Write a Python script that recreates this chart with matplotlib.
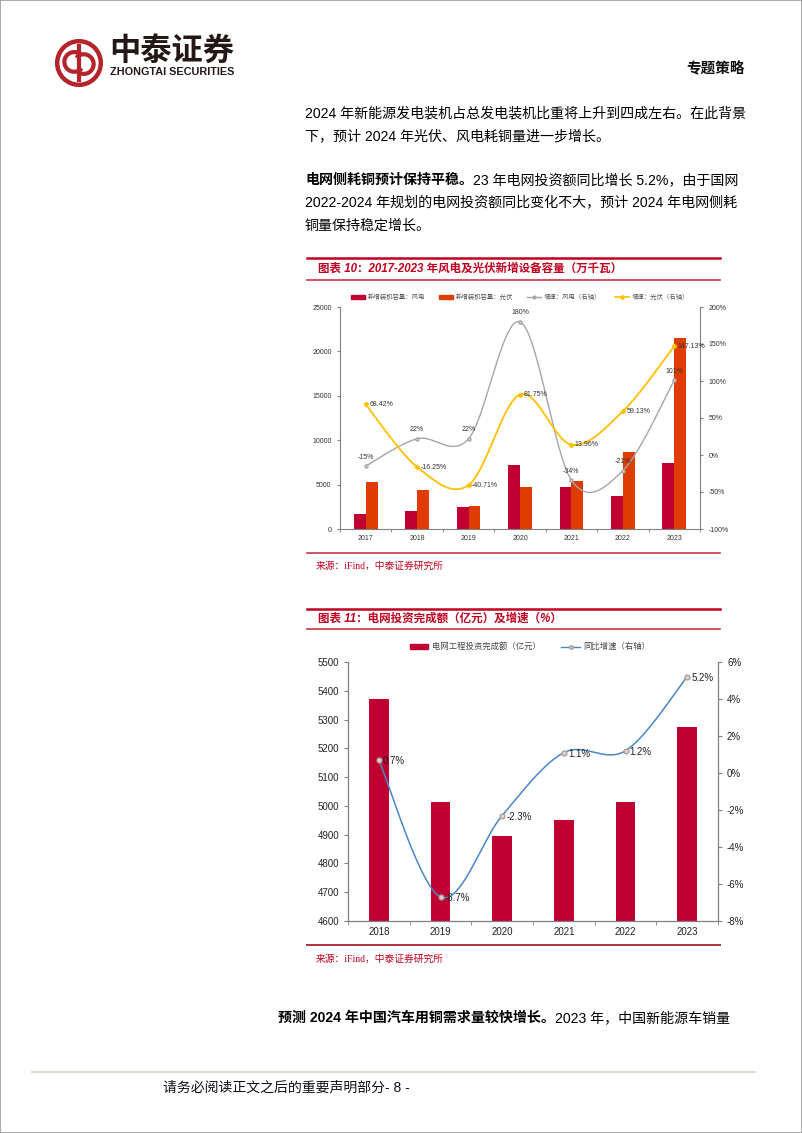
import numpy as np
import matplotlib
matplotlib.use("Agg")
import matplotlib.pyplot as plt
from matplotlib.patches import Circle, Arc, Rectangle
from matplotlib.lines import Line2D
from matplotlib.ticker import FuncFormatter

plt.rcParams['font.family'] = ['Liberation Sans', 'Noto Sans CJK SC']

# ---- data: chart 10 (wind / solar new capacity, 10MW) ----
years_a = ['2017', '2018', '2019', '2020', '2021', '2022', '2023']
wind_cap = [1690, 2070, 2520, 7170, 4700, 3720, 7480]
solar_cap = [5290, 4430, 2630, 4770, 5440, 8670, 21470]
wind_growth = [-15, 22, 22, 180, -34, -21, 101]
solar_growth = [68.42, -16.25, -40.71, 81.75, 13.96, 59.13, 147.13]

# ---- data: chart 11 (grid investment, 100M yuan) ----
years_b = ['2018', '2019', '2020', '2021', '2022', '2023']
grid_invest = [5373, 5012, 4896, 4951, 5012, 5275]
grid_growth = [0.7, -6.7, -2.3, 1.1, 1.2, 5.2]

W, H = 802, 1133
RED = '#C00030'
ORANGE = '#E03C00'
GREY = '#A6A6A6'
YELLOW = '#FFC000'
BLUE = '#4A86C5'
TITLE_RED = '#C0001F'
AXC = '#808080'

fig = plt.figure(figsize=(W / 100, H / 100), dpi=100)


def fx(px):
    return px / W


def fy(py):
    return 1 - py / H


def txt(x, y, s, **kw):
    kw.setdefault('va', 'center')
    return fig.text(fx(x), fy(y), s, **kw)


def hline(x0, x1, y, **kw):
    fig.add_artist(Line2D([fx(x0), fx(x1)], [fy(y), fy(y)],
                          transform=fig.transFigure, **kw))


def smooth(x, y, n=40):
    # Catmull-Rom style bezier smoothing (like excel "smoothed line")
    x = np.asarray(x, float)
    y = np.asarray(y, float)
    t = np.linspace(0, 1, n)
    xs, ys = [], []
    for i in range(len(x) - 1):
        a = i - 1 if i > 0 else i
        d = i + 2 if i + 2 < len(x) else i + 1
        c1x = x[i] + (x[i + 1] - x[a]) / 6
        c1y = y[i] + (y[i + 1] - y[a]) / 6
        c2x = x[i + 1] - (x[d] - x[i]) / 6
        c2y = y[i + 1] - (y[d] - y[i]) / 6
        bx = (1 - t) ** 3 * x[i] + 3 * (1 - t) ** 2 * t * c1x + 3 * (1 - t) * t ** 2 * c2x + t ** 3 * x[i + 1]
        by = (1 - t) ** 3 * y[i] + 3 * (1 - t) ** 2 * t * c1y + 3 * (1 - t) * t ** 2 * c2y + t ** 3 * y[i + 1]
        xs.extend(bx)
        ys.extend(by)
    return np.array(xs), np.array(ys)


# page frame
fig.add_artist(Rectangle((0, 0), 1, 1, transform=fig.transFigure, fill=False,
                         edgecolor='#9a9a9a', lw=1.2))

# ---- header / logo ----
lax = fig.add_axes([fx(55), fy(88), fx(48), 50 / H])
lax.set_xlim(-1.1, 1.1)
lax.set_ylim(-1.1, 1.1)
lax.set_aspect('equal')
lax.axis('off')
lax.add_patch(Circle((0, 0), 1.0, fill=False, edgecolor='#B5232B', lw=3.2))
lax.add_patch(Arc((-0.22, 0.05), 0.9, 0.9, theta1=40, theta2=320, edgecolor='#B5232B', lw=3))
lax.add_patch(Arc((0.22, -0.05), 0.9, 0.9, theta1=220, theta2=500, edgecolor='#B5232B', lw=3))
lax.plot([0, 0], [-0.8, 0.8], color='#B5232B', lw=3)

txt(109, 51, '中泰证券', fontsize=22.5, fontweight='bold', color='#231815',
    family=['Noto Sans CJK SC'])
txt(110, 72, 'ZHONGTAI SECURITIES', fontsize=7.8, fontweight='bold', color='#231815')
txt(745, 69, '专题策略', fontsize=10.5, fontweight='bold', ha='right', color='#111111')

# ---- body text ----
BODY = 10.1
txt(305, 113, '2024 年新能源发电装机占总发电装机比重将上升到四成左右。在此背景', fontsize=BODY)
txt(305, 136, '下，预计 2024 年光伏、风电耗铜量进一步增长。', fontsize=BODY)

fig.canvas.draw()
renderer = fig.canvas.get_renderer()

b1 = txt(305, 180, '电网侧耗铜预计保持平稳。', fontsize=BODY, fontweight='bold')
w1 = b1.get_window_extent(renderer).width
txt(305 + w1, 180, '23 年电网投资额同比增长 5.2%，由于国网', fontsize=BODY)
txt(305, 203, '2022-2024 年规划的电网投资额同比变化不大，预计 2024 年电网侧耗', fontsize=BODY)
txt(305, 226, '铜量保持稳定增长。', fontsize=BODY)

b2 = txt(278, 1018, '预测 2024 年中国汽车用铜需求量较快增长。', fontsize=BODY, fontweight='bold')
w2 = b2.get_window_extent(renderer).width
txt(278 + w2, 1018, '2023 年，中国新能源车销量', fontsize=BODY)

# footer
hline(32, 755, 1072, color='#D8CFC4', lw=1.2)
txt(163, 1088, '请务必阅读正文之后的重要声明部分- 8 -', fontsize=10, color='#111111')

# ---- chart 10 frame ----
hline(307, 720, 258, color=TITLE_RED, lw=1.8)
hline(307, 720, 280, color='#CC3344', lw=1.2)
txt(318, 269, '图表 10：2017-2023 年风电及光伏新增设备容量（万千瓦）', fontsize=8.3,
    fontweight='bold', style='italic', color=TITLE_RED)
hline(307, 720, 553, color='#CC3344', lw=1.2)
txt(316, 566, '来源：iFind，中泰证券研究所', fontsize=7, color='#C0001F',
    family=['Liberation Serif', 'Noto Sans CJK SC'])

ax1 = fig.add_axes([fx(340), fy(529), fx(700) - fx(340), 222 / H])
xa = np.arange(len(years_a))
bw = 0.23
ax1.bar(xa - bw / 2, wind_cap, bw, color=RED, zorder=2)
ax1.bar(xa + bw / 2, solar_cap, bw, color=ORANGE, zorder=2)
ax1.set_xlim(-0.5, len(years_a) - 0.5)
ax1.set_ylim(0, 25000)
ax1.set_yticks(range(0, 25001, 5000))
ax1.set_xticks(xa)
ax1.set_xticklabels(years_a)
ax1.set_xticks(np.arange(-0.5, len(years_a), 1), minor=True)
ax1.tick_params(axis='x', which='major', length=0, labelsize=5, pad=4, colors='#333333')
ax1.tick_params(axis='x', which='minor', length=2.5, color=AXC)
ax1.tick_params(axis='y', length=2.5, labelsize=5, colors='#333333', color=AXC)
for s in ['top', 'right']:
    ax1.spines[s].set_visible(False)
for s in ['left', 'bottom']:
    ax1.spines[s].set_color(AXC)
    ax1.spines[s].set_linewidth(0.8)

ax1r = ax1.twinx()
ax1r.set_ylim(-100, 200)
ax1r.set_yticks(range(-100, 201, 50))
ax1r.yaxis.set_major_formatter(FuncFormatter(lambda v, p: f'{v:.0f}%'))
ax1r.tick_params(axis='y', length=2.5, labelsize=5, colors='#333333', color=AXC)
for s in ['top', 'left', 'bottom']:
    ax1r.spines[s].set_visible(False)
ax1r.spines['right'].set_color(AXC)
ax1r.spines['right'].set_linewidth(0.8)

sx, sy = smooth(xa, wind_growth)
ax1r.plot(sx, sy, color=GREY, lw=1.0)
ax1r.plot(xa, wind_growth, 'o', ms=2.2, color=GREY, mfc='#D9D9D9')
sx, sy = smooth(xa, solar_growth)
ax1r.plot(sx, sy, color=YELLOW, lw=1.3)
ax1r.plot(xa, solar_growth, 'D', ms=2.2, color=YELLOW)

for i, v in enumerate(wind_growth):
    ax1r.annotate(f'{v:g}%', (xa[i], v), xytext=(0, 4), textcoords='offset points',
                  ha='center', va='bottom', fontsize=5, color='#333333')
for i, v in enumerate(solar_growth):
    ax1r.annotate(f'{v:.2f}%', (xa[i], v), xytext=(2.5, 0), textcoords='offset points',
                  ha='left', va='center', fontsize=5, color='#333333')

h1 = [Rectangle((0, 0), 1, 1, color=RED), Rectangle((0, 0), 1, 1, color=ORANGE),
      Line2D([], [], color=GREY, marker='o', ms=2, lw=1),
      Line2D([], [], color=YELLOW, marker='D', ms=2, lw=1.2)]
l1 = ['新增装机容量：风电', '新增装机容量：光伏', '增速：风电（右轴）', '增速：光伏（右轴）']
fig.legend(h1, l1, loc='center', bbox_to_anchor=(fx(520), fy(297)), ncol=4, frameon=False,
           fontsize=4.6, handlelength=2.2, handleheight=0.5, columnspacing=2.2,
           handletextpad=0.4, labelcolor='#555555')

# ---- chart 11 frame ----
hline(307, 720, 609, color=TITLE_RED, lw=1.8)
hline(307, 720, 629, color='#CC3344', lw=1.2)
txt(318, 619, '图表 11：电网投资完成额（亿元）及增速（%）', fontsize=8.3,
    fontweight='bold', style='italic', color=TITLE_RED)
hline(307, 720, 945, color='#B03040', lw=1.4)
txt(316, 959, '来源：iFind，中泰证券研究所', fontsize=7, color='#C0001F',
    family=['Liberation Serif', 'Noto Sans CJK SC'])

ax2 = fig.add_axes([fx(348), fy(921), fx(718) - fx(348), (921 - 662) / H])
xb = np.arange(len(years_b))
ax2.bar(xb, grid_invest, 0.32, color=RED, zorder=2)
ax2.set_xlim(-0.5, len(years_b) - 0.5)
ax2.set_ylim(4600, 5500)
ax2.set_yticks(range(4600, 5501, 100))
ax2.set_xticks(xb)
ax2.set_xticklabels(years_b)
ax2.set_xticks(np.arange(-0.5, len(years_b), 1), minor=True)
ax2.tick_params(axis='x', which='major', length=0, labelsize=7, pad=4, colors='#222222')
ax2.tick_params(axis='x', which='minor', length=3, color=AXC)
ax2.tick_params(axis='y', length=3, labelsize=7, colors='#222222', color=AXC)
for s in ['top', 'right']:
    ax2.spines[s].set_visible(False)
for s in ['left', 'bottom']:
    ax2.spines[s].set_color(AXC)
    ax2.spines[s].set_linewidth(0.9)

ax2r = ax2.twinx()
ax2r.set_ylim(-8, 6)
ax2r.set_yticks(range(-8, 7, 2))
ax2r.yaxis.set_major_formatter(FuncFormatter(lambda v, p: f'{v:.0f}%'))
ax2r.tick_params(axis='y', length=3, labelsize=7, colors='#222222', color=AXC)
for s in ['top', 'left', 'bottom']:
    ax2r.spines[s].set_visible(False)
ax2r.spines['right'].set_color(AXC)
ax2r.spines['right'].set_linewidth(0.9)

sx, sy = smooth(xb, grid_growth)
ax2r.plot(sx, sy, color=BLUE, lw=1.1)
ax2r.plot(xb, grid_growth, 'o', ms=3.6, color='#A0A0A0', mfc='#EDC9C0', mew=0.9)
for i, v in enumerate(grid_growth):
    ax2r.annotate(f'{v:.1f}%', (xb[i], v), xytext=(3, -1), textcoords='offset points',
                  ha='left', va='center', fontsize=7, color='#222222')

h2 = [Rectangle((0, 0), 1, 1, color=RED),
      Line2D([], [], color=BLUE, marker='o', ms=2.5, mfc='#D9D9D9', mec='#A0A0A0', lw=1)]
l2 = ['电网工程投资完成额（亿元）', '同比增速（右轴）']
fig.legend(h2, l2, loc='center', bbox_to_anchor=(fx(530), fy(647)), ncol=2, frameon=False,
           fontsize=6, handlelength=2.2, handleheight=0.5, columnspacing=2.5,
           handletextpad=0.4, labelcolor='#444444')

fig.savefig('out.png', dpi=100)
